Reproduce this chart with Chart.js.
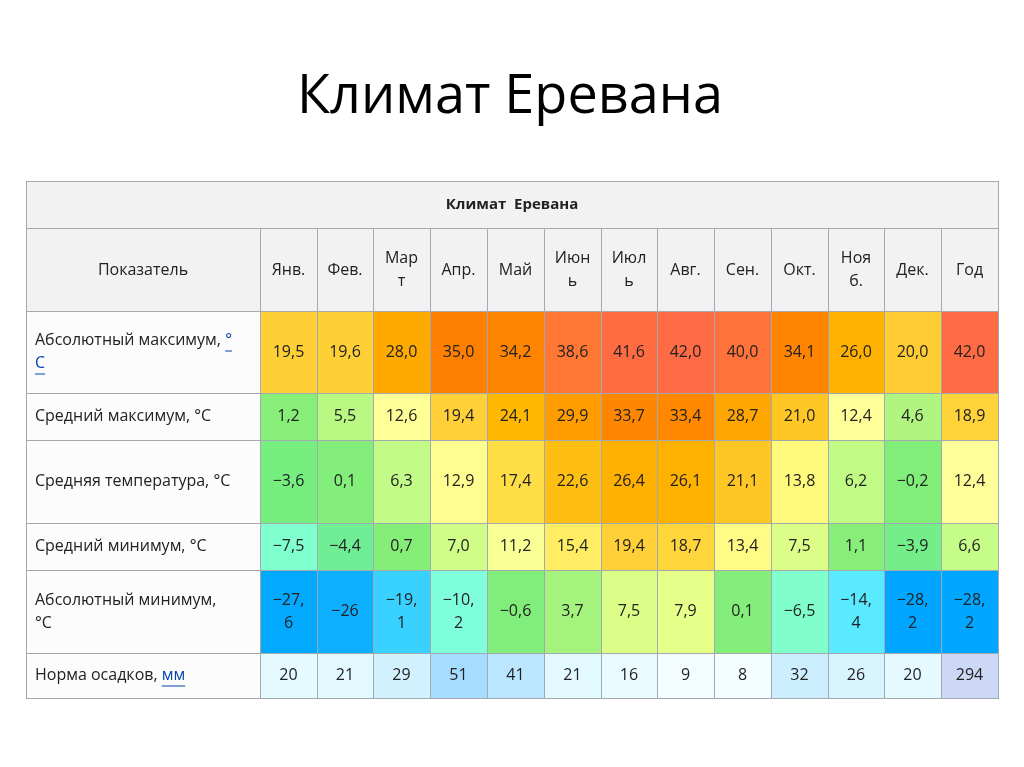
<!DOCTYPE html>
<head>
  <meta charset="utf-8">
  <style>
    body { margin: 0; background: white; }
  </style>
  <title>Климат Еревана</title>
</head>
<body>
  <canvas id="myChart" width="1024" height="767"></canvas>

  <script src="https://cdn.jsdelivr.net/npm/chart.js@4.4.0/dist/chart.umd.min.js"></script>
  <script>
    var title = 'Климат Еревана';
    var months = ['Янв.', 'Фев.', 'Мар\nт', 'Апр.', 'Май', 'Июн\nь', 'Июл\nь', 'Авг.', 'Сен.', 'Окт.', 'Ноя\nб.', 'Дек.', 'Год'];
    var rowLabels = ['Абсолютный максимум, °\nС', 'Средний максимум, °C', 'Средняя температура, °C', 'Средний минимум, °C', 'Абсолютный минимум,\n°C', 'Норма осадков, мм'];
    var absMax = [19.5, 19.6, 28.0, 35.0, 34.2, 38.6, 41.6, 42.0, 40.0, 34.1, 26.0, 20.0, 42.0];
    var avgMax = [1.2, 5.5, 12.6, 19.4, 24.1, 29.9, 33.7, 33.4, 28.7, 21.0, 12.4, 4.6, 18.9];
    var avgTemp = [-3.6, 0.1, 6.3, 12.9, 17.4, 22.6, 26.4, 26.1, 21.1, 13.8, 6.2, -0.2, 12.4];
    var avgMin = [-7.5, -4.4, 0.7, 7.0, 11.2, 15.4, 19.4, 18.7, 13.4, 7.5, 1.1, -3.9, 6.6];
    var absMin = [-27.6, -26, -19.1, -10.2, -0.6, 3.7, 7.5, 7.9, 0.1, -6.5, -14.4, -28.2, -28.2];
    var precip = [20, 21, 29, 51, 41, 21, 16, 9, 8, 32, 26, 20, 294];
    // printed forms of the values (wrapped like in the picture)
    var absMinText = ['−27,\n6', '−26', '−19,\n1', '−10,\n2', null, null, null, null, null, null, '−14,\n4', '−28,\n2', '−28,\n2'];

    // layout (canvas pixel units, used as scale values)
    var colEdges = [26, 260, 317, 373, 430, 487, 544, 601, 657, 714, 771, 828, 884, 941, 998];
    var rowEdges = [181, 228, 311, 393, 440, 523, 570, 653, 698];

    var tempStops = [
      [-28, [0, 166, 255]], [-20, [51, 204, 255]], [-14, [92, 236, 255]], [-10, [128, 255, 216]],
      [-6.5, [128, 255, 204]], [-4.4, [112, 238, 150]], [-3.6, [119, 238, 128]], [1.5, [136, 238, 119]],
      [5, [180, 246, 128]], [6.5, [196, 252, 136]], [8, [232, 255, 136]], [12.5, [255, 255, 153]],
      [14, [255, 248, 120]], [17.5, [255, 221, 68]], [20, [255, 204, 51]], [24, [255, 184, 0]],
      [28, [255, 170, 0]], [31, [255, 150, 0]], [35, [255, 127, 0]], [38.5, [255, 119, 51]], [42, [255, 107, 68]]
    ];
    function lerpStops(stops, v) {
      if (v <= stops[0][0]) return stops[0][1];
      for (var i = 1; i < stops.length; i++) {
        if (v <= stops[i][0]) {
          var a = stops[i - 1], b = stops[i], t = (v - a[0]) / (b[0] - a[0]);
          return a[1].map(function (c, k) { return Math.round(c + (b[1][k] - c) * t); });
        }
      }
      return stops[stops.length - 1][1];
    }
    function rgb(c) { return 'rgb(' + c.join(',') + ')'; }
    function tempColor(v) { return rgb(lerpStops(tempStops, v)); }
    function precipColor(v, i) {
      if (i === 12) return '#ccd8f5';
      return rgb(lerpStops([[0, [255, 255, 255]], [20, [228, 250, 255]], [51, [166, 220, 255]]], v));
    }
    function fmt(v) { return (v < 0 ? '−' : '') + Math.abs(v).toFixed(1).replace('.', ','); }

    var rows = [absMax, avgMax, avgTemp, avgMin, absMin, precip];
    var FONT = '16px "Open Sans", sans-serif';

    var tablePlugin = {
      id: 'table',
      afterDraw: function (chart) {
        var ctx = chart.ctx, xs = chart.scales.x, ys = chart.scales.y;
        function X(v) { return xs.getPixelForValue(v); }
        function Y(v) { return ys.getPixelForValue(v); }
        function cell(c0, c1, r0, r1, fill) {
          ctx.fillStyle = fill;
          ctx.fillRect(X(colEdges[c0]), Y(rowEdges[r0]), X(colEdges[c1]) - X(colEdges[c0]), Y(rowEdges[r1]) - Y(rowEdges[r0]));
          ctx.strokeStyle = '#a2a9b1';
          ctx.lineWidth = 1;
          ctx.strokeRect(X(colEdges[c0]) + 0.5, Y(rowEdges[r0]) + 0.5, X(colEdges[c1]) - X(colEdges[c0]), Y(rowEdges[r1]) - Y(rowEdges[r0]));
        }
        function text(str, cx, cy, align, bold) {
          var lines = String(str).split('\n');
          ctx.fillStyle = '#222';
          ctx.font = (bold ? 'bold 15px "Open Sans", sans-serif' : FONT);
          ctx.textAlign = align;
          ctx.textBaseline = 'middle';
          lines.forEach(function (l, k) {
            ctx.fillText(l, cx, cy + (k - (lines.length - 1) / 2) * 23);
          });
        }
        ctx.save();
        // title
        ctx.fillStyle = '#000';
        ctx.font = '54px "Open Sans", sans-serif';
        ctx.textAlign = 'center';
        ctx.textBaseline = 'middle';
        ctx.fillText(title, X(510), Y(98));

        // caption row
        cell(0, 14, 0, 1, '#f2f2f2');
        text(title.replace(' ', '  '), X(512), Y(204.5), 'center', true);
        // header row
        cell(0, 1, 1, 2, '#f2f2f2');
        text('Показатель', X(143), Y(270), 'center');
        months.forEach(function (m, i) {
          cell(i + 1, i + 2, 1, 2, '#f2f2f2');
          text(m, (X(colEdges[i + 1]) + X(colEdges[i + 2])) / 2, Y(270), 'center');
        });
        // data rows
        rows.forEach(function (vals, r) {
          var top = rowEdges[r + 2], bot = rowEdges[r + 3], cy = Y((top + bot) / 2);
          cell(0, 1, r + 2, r + 3, '#fcfcfc');
          var lines = rowLabels[r].split('\n');
          ctx.font = FONT;
          lines.forEach(function (l, k) {
            var y = cy + (k - (lines.length - 1) / 2) * 23;
            var link = (r === 0 && k === 1) ? 'С' : (r === 5 ? 'мм' : (r === 0 ? '°' : null));
            var plain = link && l.endsWith(link) ? l.slice(0, l.length - link.length) : l;
            ctx.fillStyle = '#222';
            ctx.textAlign = 'left';
            ctx.textBaseline = 'middle';
            ctx.fillText(plain, X(35), y);
            if (link && l.endsWith(link)) {
              var lx = X(35) + ctx.measureText(plain).width;
              ctx.fillStyle = '#0645ad';
              ctx.fillText(link, lx, y);
              ctx.fillRect(lx, y + 10, ctx.measureText(link).width, 1);
            }
          });
          vals.forEach(function (v, i) {
            var fill = r === 5 ? precipColor(v, i) : tempColor(v);
            cell(i + 1, i + 2, r + 2, r + 3, fill);
            var s = r === 5 ? String(v) : (r === 4 && absMinText[i]) ? absMinText[i] : fmt(v);
            text(s, (X(colEdges[i + 1]) + X(colEdges[i + 2])) / 2, cy, 'center');
          });
        });
        ctx.restore();
      }
    };

    var ctx = document.getElementById('myChart').getContext('2d');
    var myChart = new Chart(ctx, {
      type: 'scatter',
      data: { datasets: [{ data: [] }] },
      options: {
        responsive: false,
        animation: false,
        layout: { padding: 0 },
        plugins: { legend: { display: false }, tooltip: { enabled: false } },
        scales: {
          x: { type: 'linear', min: 0, max: 1024, display: false },
          y: { type: 'linear', min: 0, max: 767, reverse: true, display: false }
        }
      },
      plugins: [tablePlugin]
    });
  </script>
</body>
</html>
